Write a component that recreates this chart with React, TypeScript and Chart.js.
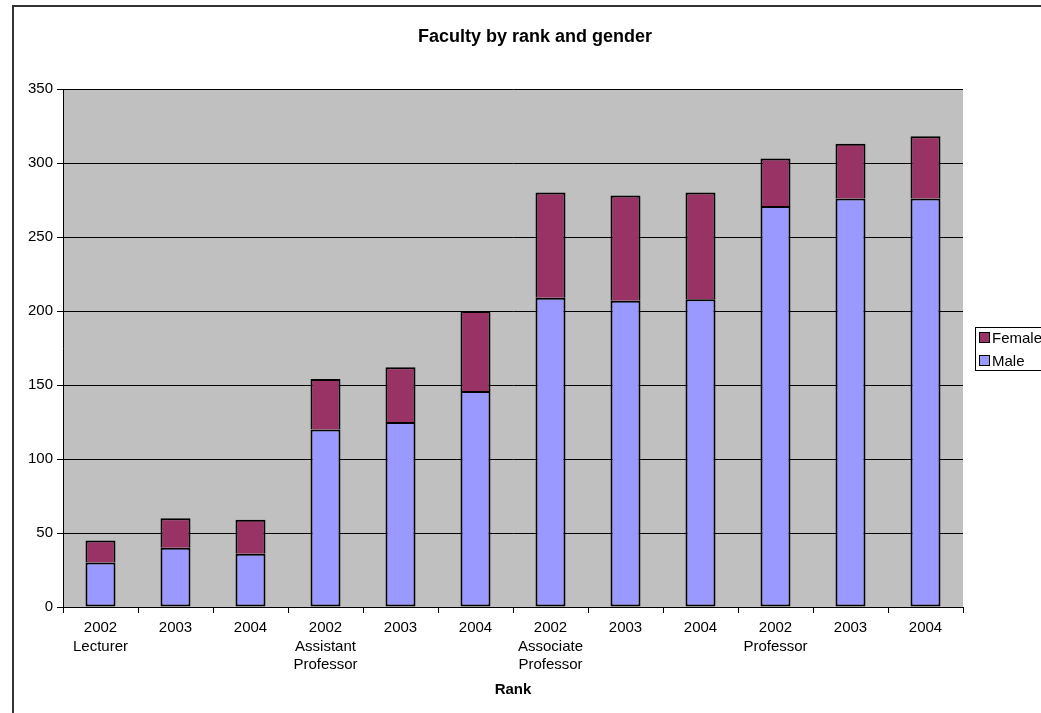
import React, { useEffect, useRef } from "react";
import { Chart, registerables } from "chart.js";

Chart.register(...registerables);

const FONT = '"Liberation Sans", Arial, sans-serif';

const chartTitle = "Faculty by rank and gender";
const axisTitle = "Rank";
const categories: string[][] = [
  ["2002", "Lecturer"],
  ["2003"],
  ["2004"],
  ["2002", "Assistant", "Professor"],
  ["2003"],
  ["2004"],
  ["2002", "Associate", "Professor"],
  ["2003"],
  ["2004"],
  ["2002", "Professor"],
  ["2003"],
  ["2004"],
];
const maleValues = [30, 40, 36, 120, 125, 146, 209, 207, 208, 271, 276, 276];
const femaleValues = [15, 20, 23, 34, 37, 54, 71, 71, 72, 32, 37, 42];
const yTicks = [0, 50, 100, 150, 200, 250, 300, 350];

const MALE_COLOR = "#9999FF";
const FEMALE_COLOR = "#993366";

const decorPlugin = {
  id: "decor",
  beforeDraw(chart: any) {
    const { ctx, chartArea } = chart;
    ctx.save();
    ctx.fillStyle = "#ffffff";
    ctx.fillRect(0, 0, chart.width, chart.height);
    ctx.fillStyle = "#C0C0C0";
    ctx.fillRect(
      chartArea.left,
      chartArea.top,
      chartArea.right - chartArea.left,
      chartArea.bottom - chartArea.top
    );
    ctx.restore();
  },
  afterDraw(chart: any) {
    const { ctx } = chart;
    ctx.save();
    // outer border
    ctx.fillStyle = "#333333";
    ctx.fillRect(12, 5, chart.width - 12, 2);
    ctx.fillRect(12, 5, 2, chart.height - 5);
    // title
    ctx.fillStyle = "#000";
    ctx.font = `bold 18px ${FONT}`;
    ctx.textAlign = "center";
    ctx.textBaseline = "middle";
    ctx.fillText(chartTitle, 535, 37);
    // legend (reversed order)
    const ds = chart.data.datasets.slice().reverse();
    const boxX = 975.5;
    const boxY = 327.5;
    ctx.fillStyle = "#ffffff";
    ctx.fillRect(boxX, boxY, 100, 43);
    ctx.strokeStyle = "#000";
    ctx.lineWidth = 1;
    ctx.strokeRect(boxX, boxY, 100, 43);
    ctx.font = `15px ${FONT}`;
    ctx.textAlign = "left";
    ctx.textBaseline = "middle";
    ds.forEach((d: any, i: number) => {
      const cy = 337.5 + i * 23;
      ctx.fillStyle = d.backgroundColor;
      ctx.fillRect(979.5, cy - 5, 10, 10);
      ctx.strokeStyle = "#000";
      ctx.strokeRect(979.5, cy - 5, 10, 10);
      ctx.fillStyle = "#000";
      ctx.fillText(d.label, 992, cy + 1);
    });
    ctx.restore();
  },
};

export default function App() {
  const ref = useRef<HTMLCanvasElement | null>(null);

  useEffect(() => {
    if (!ref.current) return;
    const chart = new Chart(ref.current, {
      type: "bar",
      data: {
        labels: categories,
        datasets: [
          {
            label: "Male",
            data: maleValues,
            backgroundColor: MALE_COLOR,
            borderColor: "#000",
            borderWidth: 2,
            borderSkipped: false,
            categoryPercentage: 0.8,
            barPercentage: 0.5,
          },
          {
            label: "Female",
            data: femaleValues,
            backgroundColor: FEMALE_COLOR,
            borderColor: "#000",
            borderWidth: { top: 2, left: 2, right: 2, bottom: 0 },
            borderSkipped: false,
            categoryPercentage: 0.8,
            barPercentage: 0.5,
          },
        ],
      },
      options: {
        animation: false,
        responsive: false,
        maintainAspectRatio: false,
        devicePixelRatio: 1,
        layout: { padding: { top: 89, left: 0, right: 78, bottom: 0 } },
        plugins: {
          legend: { display: false },
          title: { display: false },
          tooltip: { enabled: false },
        },
        scales: {
          x: {
            stacked: true,
            offset: true,
            grid: {
              display: true,
              drawOnChartArea: false,
              drawTicks: true,
              tickLength: 6,
              color: "#000",
              offset: true,
            },
            border: { display: true, color: "#000", width: 1 },
            ticks: {
              color: "#000",
              font: { family: FONT, size: 15, lineHeight: 1.22 },
              padding: 6,
              maxRotation: 0,
              autoSkip: false,
            },
            title: {
              display: true,
              text: axisTitle,
              color: "#000",
              font: { family: FONT, size: 15, weight: "bold" },
              padding: { top: 4, bottom: 14 },
            },
            afterFit: (s: any) => {
              s.height = 106;
            },
          } as any,
          y: {
            stacked: true,
            min: 0,
            max: 350,
            afterBuildTicks: (s: any) => {
              s.ticks = yTicks.map((v) => ({ value: v }));
            },
            grid: {
              color: "#000",
              lineWidth: 1,
              drawTicks: true,
              tickLength: 6,
            },
            border: { display: true, color: "#000", width: 1 },
            ticks: {
              color: "#000",
              font: { family: FONT, size: 15 },
              padding: 4,
            },
            afterFit: (s: any) => {
              s.width = 63;
            },
          } as any,
        },
      },
      plugins: [decorPlugin],
    });
    return () => chart.destroy();
  }, []);

  return (
    <div style={{ position: "fixed", left: 0, top: 0, width: 1041, height: 713 }}>
      <canvas ref={ref} width={1041} height={713} />
    </div>
  );
}
